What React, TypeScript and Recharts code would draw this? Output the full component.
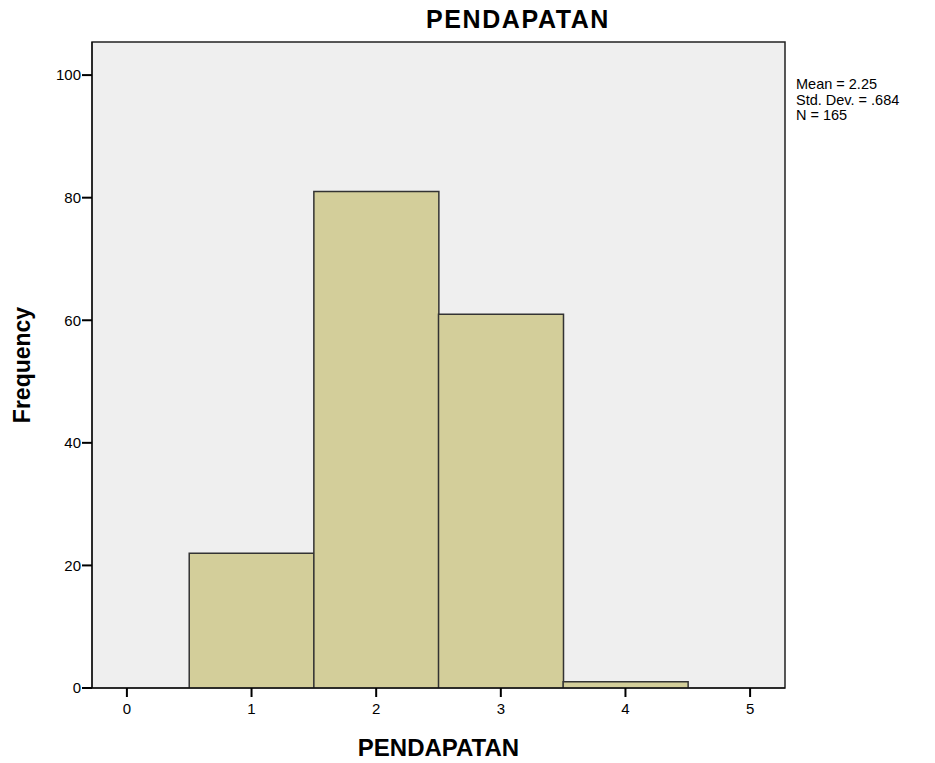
import React from 'react';
import { Bar, BarChart, ReferenceArea, XAxis, YAxis } from 'recharts';

const binCenters = [1, 2, 3, 4];
const frequencies = [22, 81, 61, 1];
const xTicks = [0, 1, 2, 3, 4, 5];
const yTicks = [0, 20, 40, 60, 80, 100];
const statsLines = ['Mean = 2.25', 'Std. Dev. = .684', 'N = 165'];

const data = binCenters.map((x, i) => ({ x, freq: frequencies[i] }));

const X_DOMAIN: [number, number] = [-0.28, 5.28];
const Y_DOMAIN: [number, number] = [0, 105.4];
const font = '"Liberation Sans", Arial, sans-serif';

const App: React.FC = () => {
  return (
    <div style={{ position: 'absolute', left: 0, top: 0, width: 935, height: 763, background: '#fff', fontFamily: font }}>
      <div
        style={{
          position: 'absolute',
          left: 0,
          width: 1036,
          top: 5,
          textAlign: 'center',
          fontSize: 25,
          letterSpacing: 1.6,
          fontWeight: 'bold',
          color: '#000',
        }}
      >
        PENDAPATAN
      </div>
      <BarChart
        width={935}
        height={763}
        data={data}
        margin={{ top: 42, right: 150, bottom: 45, left: 52 }}
        barCategoryGap={0}
        barGap={0}
      >
        <ReferenceArea
          x1={X_DOMAIN[0]}
          x2={X_DOMAIN[1]}
          y1={Y_DOMAIN[0]}
          y2={Y_DOMAIN[1]}
          fill="#efefef"
          fillOpacity={1}
          stroke="#222"
          strokeWidth={1.5}
          ifOverflow="visible"
        />
        <XAxis
          dataKey="x"
          type="number"
          domain={X_DOMAIN}
          ticks={xTicks}
          allowDataOverflow
          height={30}
          stroke="#000"
          tickSize={9}
          tickMargin={6}
          tickLine={{ stroke: '#000', strokeWidth: 2 }}
          tick={{ fill: '#000', fontSize: 15, fontFamily: font }}
          label={{
            value: 'PENDAPATAN',
            position: 'insideBottom',
            offset: -38,
            style: { fontSize: 24, fontWeight: 'bold', fill: '#000', fontFamily: font },
          }}
        />
        <YAxis
          type="number"
          domain={Y_DOMAIN}
          ticks={yTicks}
          allowDataOverflow
          width={40}
          stroke="#000"
          tickSize={10}
          tickMargin={1}
          tickLine={{ stroke: '#000', strokeWidth: 2 }}
          tick={{ fill: '#000', fontSize: 15, fontFamily: font }}
          label={{
            value: 'Frequency',
            angle: -90,
            position: 'insideLeft',
            offset: -30,
            style: { fontSize: 23, fontWeight: 'bold', fill: '#000', fontFamily: font, textAnchor: 'middle' },
          }}
        />
        <Bar
          dataKey="freq"
          fill="#d3ce9a"
          stroke="#333"
          strokeWidth={1.5}
          isAnimationActive={false}
        />
      </BarChart>
      <div
        style={{
          position: 'absolute',
          left: 796,
          top: 77,
          fontSize: 14.5,
          lineHeight: '15.5px',
          color: '#000',
        }}
      >
        {statsLines.map((s) => (
          <div key={s}>{s}</div>
        ))}
      </div>
    </div>
  );
};

export default App;
